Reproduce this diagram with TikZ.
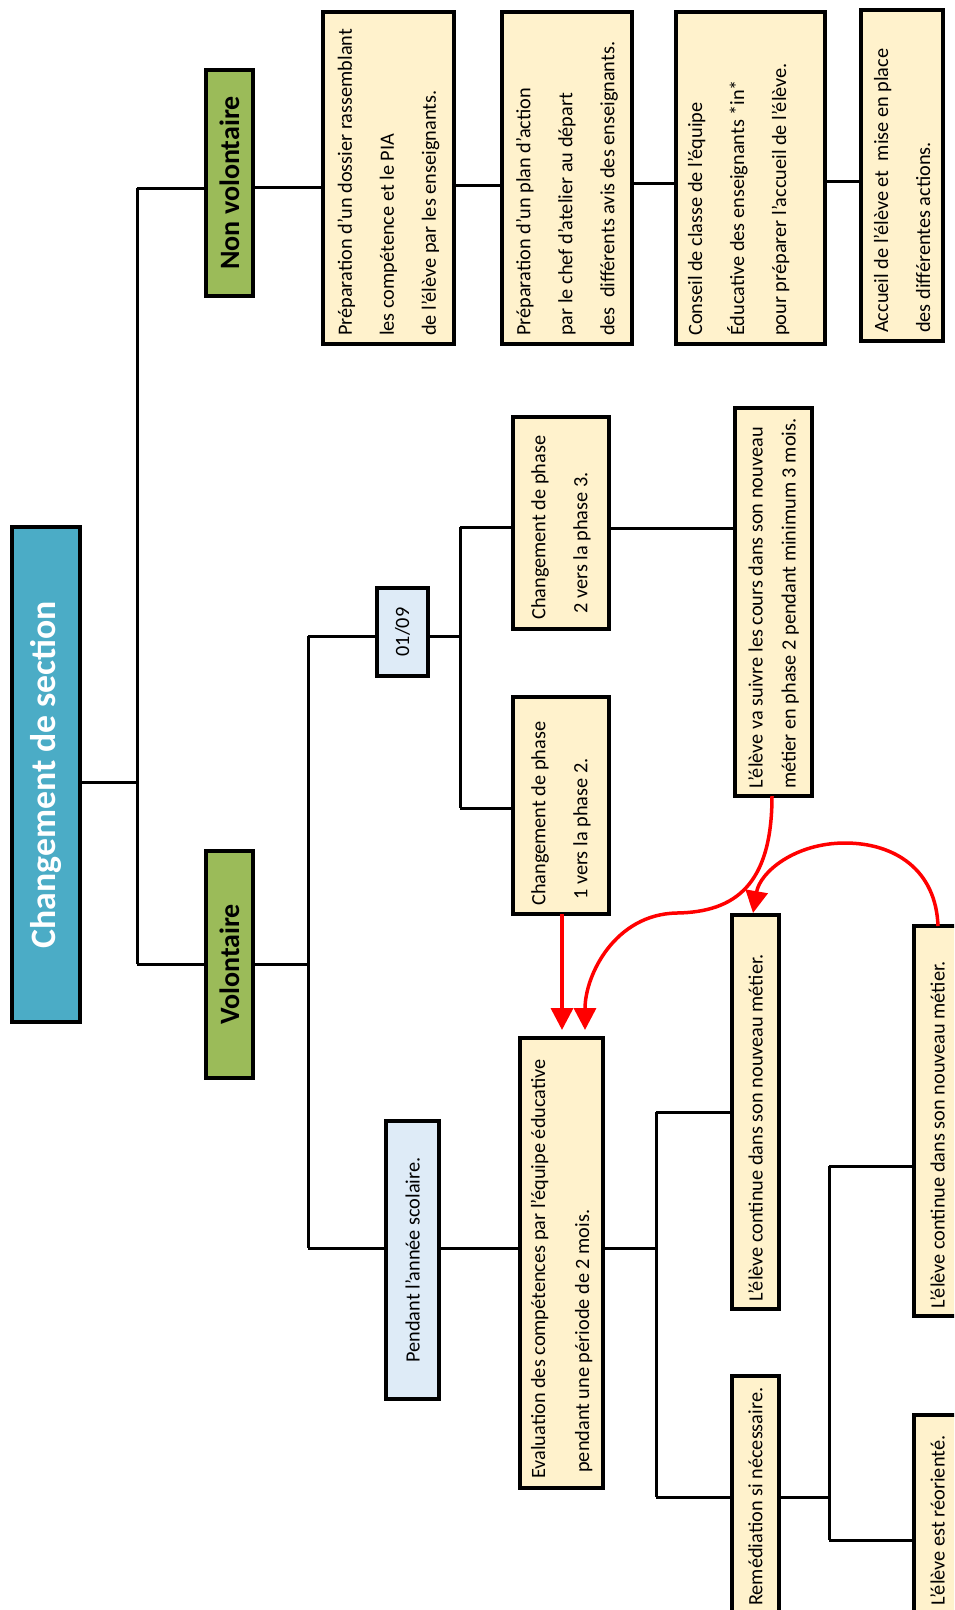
\documentclass[tikz,border=0pt]{standalone}
\usepackage{fontspec}
\setmainfont{Carlito}
\usetikzlibrary{arrows.meta}
\definecolor{ttl}{HTML}{4BACC6}
\definecolor{grn}{HTML}{9BBB59}
\definecolor{ylw}{HTML}{FFF2CC}
\definecolor{lbl}{HTML}{DEEBF7}
\definecolor{rd}{HTML}{FF0000}
\tikzset{
  bx/.style={draw=black, line width=3.5pt, inner sep=0pt, outer sep=0pt},
  ybox/.style={bx, fill=ylw},
  bbox/.style={bx, fill=lbl},
  gbox/.style={bx, fill=grn},
  tbox/.style={bx, fill=ttl},
  txt/.style={rotate=90, inner sep=0pt, align=left, font=\fontsize{20.3}{42}\selectfont},
  ln/.style={line width=3pt, black},
  redarr/.style={line width=3.5pt, rd, -{Triangle[width=22pt,length=22pt]}},
}
\begin{document}
\begin{tikzpicture}[x=1pt, y={(0pt,-1pt)}]
\useasboundingbox (0,0) rectangle (954,1610);
\clip (0,0) rectangle (954,1610);
\fill[white] (0,0) rectangle (954,1610);

% boxes
\node[tbox, minimum width=68pt, minimum height=495pt] (title) at (46,774.5) {};
\node[rotate=90, text=white, font=\fontsize{35.7}{40}\selectfont\bfseries] at (title.center) {Changement de section};

\node[gbox, minimum width=47pt, minimum height=226pt] (nonvol) at (229.5,183) {};
\node[rotate=90, font=\fontsize{28}{30}\selectfont\bfseries] at (nonvol.center) {Non volontaire};
\node[gbox, minimum width=47pt, minimum height=227pt] (vol) at (229.5,964.5) {};
\node[rotate=90, font=\fontsize{28}{30}\selectfont\bfseries] at (vol.center) {Volontaire};

\node[ybox, minimum width=131pt, minimum height=332pt] (dos) at (388.5,178) {};
\node[txt, anchor=west] at ([yshift=8pt]dos.south) {Préparation d’un dossier rassemblant\\les compétence et le PIA\\de l’élève par les enseignants.};
\node[ybox, minimum width=130pt, minimum height=332pt] (plan) at (567,178) {};
\node[txt, anchor=west] at ([yshift=8pt]plan.south) {Préparation d’un plan d’action\\par le chef d’atelier au départ\\des\ \ différents avis des enseignants.};
\node[ybox, minimum width=149pt, minimum height=332pt] (cons) at (750.5,178) {};
\node[txt, anchor=west] at ([yshift=8pt, xshift=-12pt]cons.south) {Conseil de classe de l’équipe\\Éducative des enseignants *in*\\pour préparer l’accueil de l’élève.};
\node[ybox, minimum width=82pt, minimum height=331pt] (acc) at (902,175.5) {};
\node[txt, anchor=west] at ([yshift=8pt]acc.south) {Accueil de l’élève et\ \ mise en place\\des différentes actions.};

\node[bbox, minimum width=51pt, minimum height=88pt] (date) at (402.5,632) {};
\node[txt] at (date.center) {01/09};
\node[ybox, minimum width=96pt, minimum height=212pt] (p23) at (561,523) {};
\node[txt, anchor=west] at ([yshift=9pt]p23.south) {Changement de phase\\\hspace*{0.3em}2 vers la phase 3.};
\node[ybox, minimum width=96pt, minimum height=217pt] (p12) at (561,805.5) {};
\node[txt, anchor=west] at ([yshift=8pt]p12.south) {Changement de phase\\\hspace*{0.3em}1 vers la phase 2.};
\node[ybox, minimum width=77pt, minimum height=388pt] (suiv) at (773.5,602) {};
\node[txt, anchor=west, font=\fontsize{20.3}{33}\selectfont] at ([yshift=7pt]suiv.south) {L’élève va suivre les cours dans son nouveau\\métier en phase 2 pendant minimum 3 mois.};

\node[bbox, minimum width=53pt, minimum height=278pt] (pend) at (412.5,1260) {};
\node[txt] at (pend.center) {Pendant l’année scolaire.};
\node[ybox, minimum width=83pt, minimum height=450pt] (eval) at (561.5,1263) {};
\node[txt, anchor=west, font=\fontsize{20.3}{44}\selectfont] at ([yshift=9pt]eval.south) {Evaluation des compétences par l’équipe éducative\\\hspace*{0.3em}pendant une période de 2 mois.};
\node[ybox, minimum width=47pt, minimum height=394pt] (cont1) at (755.5,1112) {};
\node[txt, anchor=west] at ([yshift=7pt]cont1.south) {L’élève continue dans son nouveau métier.};
\node[ybox, minimum width=47pt, minimum height=238pt] (rem) at (755.5,1495) {};
\node[txt, anchor=west] at ([yshift=8pt]rem.south) {Remédiation si nécessaire.};
\node[ybox, minimum width=47pt, minimum height=390pt] (cont2) at (937.5,1121) {};
\node[txt, anchor=west] at ([yshift=7pt]cont2.south) {L’élève continue dans son nouveau métier.};
\node[ybox, minimum width=47pt, minimum height=199pt] (reo) at (937.5,1514.5) {};
\node[txt, anchor=west] at ([yshift=8pt]reo.south) {L’élève est réorienté.};

% junction coordinates
\coordinate (jt) at (137,782);
\coordinate (jn) at (137,188);
\coordinate (jv) at (137,964);
\coordinate (ya) at (0,187);
\coordinate (yb) at (0,185);
\coordinate (yc) at (0,183);
\coordinate (yd) at (0,181);
\coordinate (va) at (308,636);
\coordinate (vb) at (308,1248);
\coordinate (vc) at (308,964);
\coordinate (da) at (460,636);
\coordinate (db) at (460,527);
\coordinate (dc) at (460,808);
\coordinate (ye) at (0,528);
\coordinate (ea) at (656,1248);
\coordinate (eb) at (656,1112);
\coordinate (ec) at (656,1497);
\coordinate (ra) at (829,1497);
\coordinate (rb) at (829,1166);
\coordinate (rc) at (829,1540);

% connectors
\draw[ln] (title.east |- jt) -- (jt);
\draw[ln] (jn) -- (jv);
\draw[ln] (jn) -- (nonvol.west |- jn);
\draw[ln] (jv) -- (vol.west |- jv);
\draw[ln] (nonvol.east |- ya) -- (dos.west |- ya);
\draw[ln] (dos.east |- yb) -- (plan.west |- yb);
\draw[ln] (plan.east |- yc) -- (cons.west |- yc);
\draw[ln] (cons.east |- yd) -- (acc.west |- yd);
\draw[ln] (vol.east |- vc) -- (vc);
\draw[ln] (va) -- (vb);
\draw[ln] (va) -- (date.west |- va);
\draw[ln] (date.east |- da) -- (da);
\draw[ln] (db) -- (dc);
\draw[ln] (db) -- (p23.west |- db);
\draw[ln] (dc) -- (p12.west |- dc);
\draw[ln] (p23.east |- ye) -- (suiv.west |- ye);
\draw[ln] (vb) -- (pend.west |- vb);
\draw[ln] (pend.east |- vb) -- (eval.west |- vb);
\draw[ln] (eval.east |- ea) -- (ea);
\draw[ln] (eb) -- (ec);
\draw[ln] (eb) -- (cont1.west |- eb);
\draw[ln] (ec) -- (rem.west |- ec);
\draw[ln] (rem.east |- ra) -- (ra);
\draw[ln] (rb) -- (rc);
\draw[ln] (rb) -- (cont2.west |- rb);
\draw[ln] (rc) -- (reo.west |- rc);

% red arrows
\coordinate (t1) at (562,1030);
\coordinate (t2) at (585,1030);
\coordinate (m2) at (677,913);
\coordinate (s2) at (772,796);
\coordinate (s3) at (938,926);
\coordinate (m3) at (845,843);
\coordinate (t3) at (753,913);
\draw[redarr] (p12.south -| t1) -- (t1);
\draw[redarr] (s2) .. controls (772,885) and (735,912) .. (m2) .. controls (615,914) and (585,975) .. (t2);
\draw[redarr] (s3) .. controls (936,870) and (895,843) .. (m3) .. controls (795,843) and (760,872) .. (t3);
\end{tikzpicture}
\end{document}
